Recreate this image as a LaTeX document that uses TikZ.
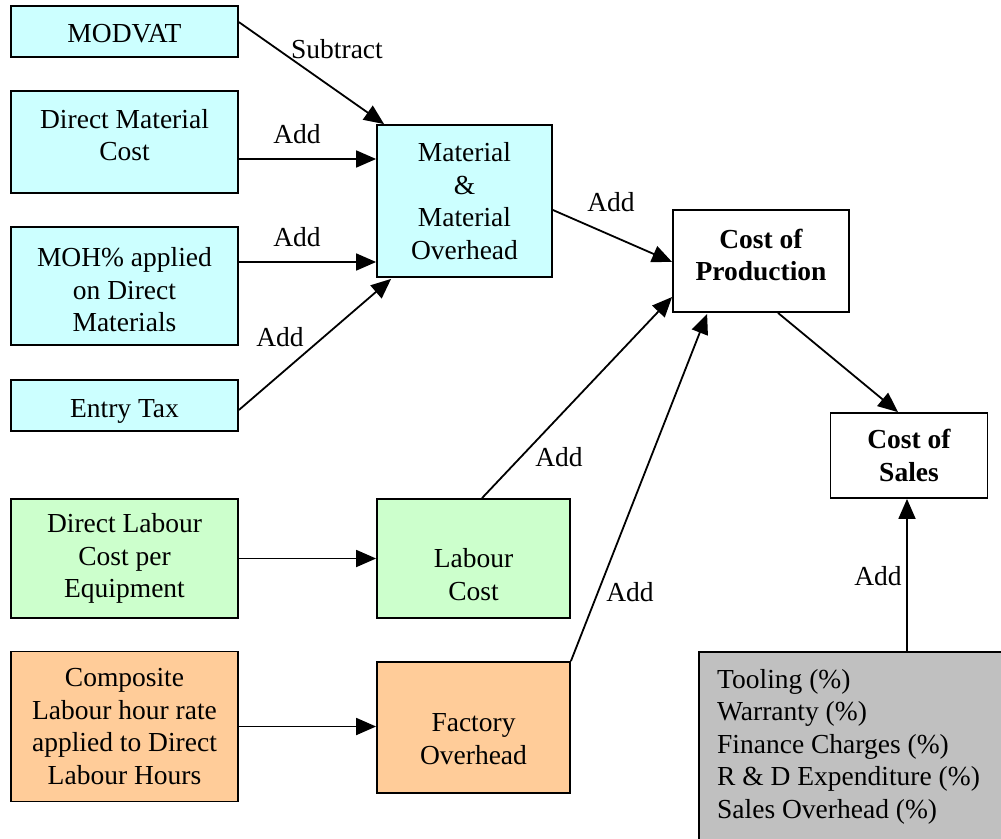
\documentclass[tikz,border=0pt]{standalone}
\usepackage{fontspec}
\setmainfont{Liberation Serif}
\usetikzlibrary{arrows.meta,calc}
\definecolor{cyanfill}{HTML}{CCFFFF}
\definecolor{greenfill}{HTML}{CCFFCC}
\definecolor{orangefill}{HTML}{FFCC99}
\definecolor{grayfill}{HTML}{C0C0C0}
% shift multi-line node text: \txtdn{d} on first line moves text down by d, \txtup{d} on last line moves it up by d
\newcommand\txtdn[1]{\rule{0pt}{\dimexpr19.25pt+#1*2\relax}}
\newcommand\txtup[1]{\rule[\dimexpr-#1*2\relax]{0pt}{\dimexpr#1*2\relax}}
\begin{document}
\begin{tikzpicture}[x=1pt,y=-1pt,
  every node/.style={font=\fontsize{27.5}{32.5}\selectfont},
  box/.style={draw=black, line width=1.8pt, align=center, inner sep=0pt},
  cbox/.style={box, fill=cyanfill},
  gbox/.style={box, fill=greenfill},
  obox/.style={box, fill=orangefill},
  wbox/.style={box, fill=white, font=\fontsize{27.5}{32.5}\selectfont\bfseries},
  conn/.style={line width=1.8pt, -{Triangle[length=20pt,width=17pt]}},
  lbl/.style={inner sep=0pt}]
\useasboundingbox (0,0) rectangle (1001,838);
\clip (0,0) rectangle (1001,838);
\fill[white] (0,0) rectangle (1001,838);

% boxes
\node[cbox, minimum width=227, minimum height=51] (modvat) at (124.5,31.5) {\txtdn{1.5pt}MODVAT};
\node[cbox, minimum width=227, minimum height=102] (dmc) at (124.5,142) {Direct Material\\Cost\txtup{7pt}};
\node[cbox, minimum width=227, minimum height=118] (moh) at (124.5,286) {\txtdn{4pt}MOH\% applied\\on Direct\\Materials};
\node[cbox, minimum width=227, minimum height=51] (etax) at (124.5,405.5) {\txtdn{5pt}Entry Tax};
\node[cbox, minimum width=175, minimum height=152] (mat) at (464.5,201) {Material\\\&\\Material\\Overhead};
\node[wbox, minimum width=176, minimum height=102] (cop) at (761,261) {Cost of\\Production\txtup{6pt}};
\node[wbox, minimum width=157, minimum height=85] (cos) at (909,455.5) {Cost of\\Sales};
\node[gbox, minimum width=227, minimum height=119] (dlc) at (124.5,558.5) {Direct Labour\\Cost per\\Equipment};
\node[gbox, minimum width=193, minimum height=119] (lab) at (473.5,558.5) {\txtdn{16pt}Labour\\Cost};
\node[obox, minimum width=227, minimum height=150] (comp) at (124.5,726.5) {Composite\\Labour hour rate\\applied to Direct\\Labour Hours};
\node[obox, minimum width=193, minimum height=131] (fo) at (473.5,727.5) {\txtdn{11pt}Factory\\Overhead};
\node[box, fill=grayfill, minimum width=330, minimum height=200, anchor=north west] (gray) at (698,651) {};
\node[anchor=north west, align=left, inner sep=0pt] (graytext) at (717,669)
  {Tooling (\%)\\Warranty (\%)\\Finance Charges (\%)\\R \& D Expenditure (\%)\\Sales Overhead (\%)};

% connectors
\draw[conn] ($(modvat.north east)+(0,17)$) -- ($(mat.north west)+(8,0)$);
\draw[conn] ($(dmc.east)+(0,17)$) -- ($(mat.west)+(0,-42)$);
\draw[conn] ($(moh.east)+(0,-24)$) -- ($(mat.west)+(0,61)$);
\draw[conn] ($(etax.east)+(0,4.5)$) -- ($(mat.south west)+(15,1)$);
\draw[conn] ($(mat.east)+(0,9)$) -- ($(cop.west)+(0,1)$);
\draw[conn] ($(lab.north)+(8.5,0)$) -- ($(cop.west)+(0,36)$);
\draw[conn] (fo.north east) -- ($(cop.south west)+(35,1)$);
\draw[conn] ($(cop.south)+(17,0)$) -- ($(cos.north)+(-11,0)$);
\draw[conn] ($(gray.north west)+(209,0)$) -- ($(cos.south)+(-2,0)$);
\draw[conn] (dlc.east) -- (lab.west);
\draw[conn] (comp.east) -- (comp.east -| fo.west);

% labels
\node[lbl] (l1) at (337,49) {Subtract};
\node[lbl] (l2) at (297,134) {Add};
\node[lbl] (l3) at (297,237) {Add};
\node[lbl] (l4) at (280,337) {Add};
\node[lbl] (l5) at (611,202) {Add};
\node[lbl] (l6) at (559,457) {Add};
\node[lbl] (l7) at (630,592) {Add};
\node[lbl] (l8) at (878,576) {Add};
\end{tikzpicture}
\end{document}
